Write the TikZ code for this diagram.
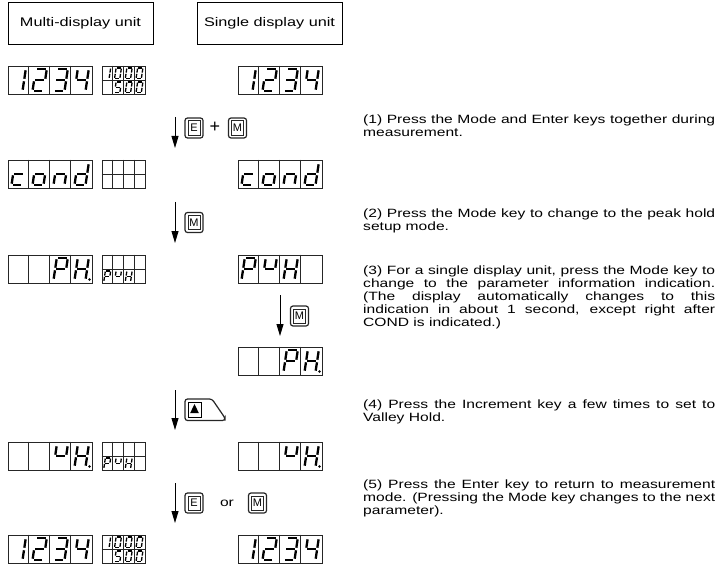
\documentclass[tikz,border=0pt]{standalone}
\usepackage{fontspec}
\setmainfont{Liberation Sans}[FakeStretch=1.3]
\newfontfamily\keyfont{Liberation Sans}
\usetikzlibrary{arrows.meta}
\setlength{\parindent}{0pt}
\hyphenpenalty=10000

\tikzset{
  seg/.style={line width=2.3pt},
  segsm/.style={line width=1.3pt},
  cell/.style={line width=0.7pt, draw=black!85},
  dispbox/.style={draw=black!85, line width=0.7pt, inner sep=0pt, minimum height=28pt},
  unitbox/.style={draw, line width=0.8pt, minimum width=145pt, minimum height=42pt, font=\fontsize{12.5}{15}\selectfont},
  keybox/.style={draw=black!85, line width=1.2pt, rounded corners=2.5pt, minimum width=18pt, minimum height=20pt, inner sep=0pt,
    font=\keyfont\fontsize{11}{11}\selectfont,
    path picture={\draw[sharp corners, line width=0.6pt] ([shift={(2.8pt,2.8pt)}]path picture bounding box.south west) rectangle ([shift={(-2.8pt,-2.8pt)}]path picture bounding box.north east);}},
  keyin/.style={draw, line width=0.6pt, minimum width=13pt, minimum height=15pt, inner sep=0pt},
  flow/.style={line width=0.9pt, -{Triangle[length=12pt,width=7pt]}},
  note/.style={anchor=north west, inner sep=0pt, text width=352pt, align=justify, font=\fontsize{12}{13}\selectfont},
}

% one seven segment digit: [style]{x}{y of bottom}{scale}{segments}
\newcommand{\sevseg}[5][seg]{%
  \begin{scope}[shift={(#2,#3)}, scale=#4, xslant=0.15]
    \coordinate (sa1) at (1.3,-22); \coordinate (sa2) at (9.7,-22);
    \coordinate (sb1) at (11,-20.7); \coordinate (sb2) at (11,-12.3);
    \coordinate (sc1) at (11,-9.7);  \coordinate (sc2) at (11,-1.3);
    \coordinate (sd1) at (1.3,0);   \coordinate (sd2) at (9.7,0);
    \coordinate (se1) at (0,-9.7);  \coordinate (se2) at (0,-1.3);
    \coordinate (sf1) at (0,-20.7); \coordinate (sf2) at (0,-12.3);
    \coordinate (sg1) at (1.3,-11); \coordinate (sg2) at (9.7,-11);
    \foreach \s in {#5} \draw[#1] (s\s1) -- (s\s2);
  \end{scope}}
\newcommand{\bigdig}[3]{\sevseg{#1+3.5}{#2+25}{1}{#3}}
\newcommand{\smalldig}[3]{\sevseg[segsm]{#1+1.8}{#2+12.5}{0.48}{#3}}
\newcommand{\decpt}[2]{\fill (#1+18.5,#2+24.5) circle (1.4pt);}

% display frames
\newcommand{\maindisp}[3]{%
  \node[dispbox, minimum width=84pt] (#1) at (#2+42,#3+14) {};
  \foreach \i in {1,2,3} \draw[cell] ([xshift=\i*21pt]#1.north west) -- ([xshift=\i*21pt]#1.south west);}
\newcommand{\subdisp}[3]{%
  \node[dispbox, minimum width=43pt] (#1) at (#2+21.5,#3+14) {};
  \foreach \i in {1,2,3} \draw[cell] ([xshift=\i*10.75pt]#1.north west) -- ([xshift=\i*10.75pt]#1.south west);
  \draw[cell] (#1.west) -- (#1.east);}

% words
\newcommand{\wordnum}[2]{%
  \bigdig{#1}{#2}{b,c}\bigdig{#1+21}{#2}{a,b,g,e,d}\bigdig{#1+42}{#2}{a,b,g,c,d}\bigdig{#1+63}{#2}{f,g,b,c}}
\newcommand{\wordcond}[2]{%
  \bigdig{#1}{#2}{g,e,d}\bigdig{#1+21}{#2}{g,c,d,e}\bigdig{#1+42}{#2}{g,e,c}\bigdig{#1+63}{#2}{b,c,d,e,g}}
\newcommand{\subnum}[2]{%
  \smalldig{#1}{#2}{b,c}\smalldig{#1+10.75}{#2}{a,b,c,d,e,f}\smalldig{#1+21.5}{#2}{a,b,c,d,e,f}\smalldig{#1+32.25}{#2}{a,b,c,d,e,f}
  \smalldig{#1+10.75}{#2+14}{a,f,g,c,d}\smalldig{#1+21.5}{#2+14}{a,b,c,d,e,f}\smalldig{#1+32.25}{#2+14}{a,b,c,d,e,f}}
\newcommand{\subpuh}[2]{%
  \smalldig{#1}{#2+14}{a,b,e,f,g}\smalldig{#1+10.75}{#2+14}{f,g,b}\smalldig{#1+21.5}{#2+14}{b,c,e,f,g}}

\begin{document}
\begin{tikzpicture}[x=1pt,y=-1pt]
\useasboundingbox (0,0) rectangle (717,564);

\node[unitbox] (multi) at (80.5,23) {Multi-display unit};
\node[unitbox] (single) at (269.5,23) {Single display unit};

% row 1
\maindisp{m1}{8}{66} \subdisp{s1}{102}{66} \maindisp{u1}{238}{66}
\wordnum{8}{66} \subnum{102}{66} \wordnum{238}{66}

% row 2
\maindisp{m2}{8}{160} \subdisp{s2}{102}{160} \maindisp{u2}{238}{160}
\wordcond{8}{160} \wordcond{238}{160}

% row 3
\maindisp{m3}{8}{255} \subdisp{s3}{102}{255} \maindisp{u3}{238}{255}
\bigdig{50}{255}{a,b,e,f,g} \bigdig{71}{255}{b,c,e,f,g} \decpt{71}{255}
\subpuh{102}{255}
\bigdig{238}{255}{a,b,e,f,g} \bigdig{259}{255}{f,g,b} \bigdig{280}{255}{b,c,e,f,g}

% row 4
\maindisp{u4}{238}{347}
\bigdig{280}{347}{a,b,e,f,g} \bigdig{301}{347}{b,c,e,f,g} \decpt{301}{347}

% row 5
\maindisp{m5}{8}{442} \subdisp{s5}{102}{442} \maindisp{u5}{238}{442}
\bigdig{50}{442}{f,g,b} \bigdig{71}{442}{b,c,e,f,g} \decpt{71}{442}
\subpuh{102}{442}
\bigdig{280}{442}{f,g,b} \bigdig{301}{442}{b,c,e,f,g} \decpt{301}{442}

% row 6
\maindisp{m6}{8}{535} \subdisp{s6}{102}{535} \maindisp{u6}{238}{535}
\wordnum{8}{535} \subnum{102}{535} \wordnum{238}{535}

% arrows and keys
\coordinate (a1s) at (175,117); \coordinate (a1e) at (175,148);
\draw[flow] (a1s) -- (a1e);
\node[keybox] (kE1) at (194,128) {E};
\node[font=\keyfont\fontsize{18}{18}\selectfont, inner sep=0pt] (plus) at (215,127.5) {+};
\node[keybox] (kM1) at (237.5,128) {M};

\coordinate (a2s) at (175,202); \coordinate (a2e) at (175,243);
\draw[flow] (a2s) -- (a2e);
\node[keybox] (kM2) at (194,222.5) {M};

\coordinate (a3s) at (280,295); \coordinate (a3e) at (280,336);
\draw[flow] (a3s) -- (a3e);
\node[keybox] (kM3) at (299.5,316) {M};

\coordinate (a4s) at (175,390); \coordinate (a4e) at (175,430);
\draw[flow] (a4s) -- (a4e);
\draw[draw=black!85, line width=1.2pt, rounded corners=2.5pt] (185,399) -- (212,399) -- (225,418) -- (225,420.5) -- (185,420.5) -- cycle;
\node[keyin] (kInc) at (194.5,409.5) {};
\fill (194.5,404) -- (198.8,413) -- (190.2,413) -- cycle;

\coordinate (a5s) at (175,483); \coordinate (a5e) at (175,523);
\draw[flow] (a5s) -- (a5e);
\node[keybox] (kE5) at (194,503) {E};
\node[font=\fontsize{12}{13}\selectfont] (or) at (227,503) {or};
\node[keybox] (kM5) at (257.5,503) {M};

% notes
\node[note] (n1) at (363,114.5) {(1) Press the Mode and Enter keys together during\linebreak measurement.};
\node[note] (n2) at (363,208.5) {(2) Press the Mode key to change to the peak hold\linebreak setup mode.};
\node[note] (n3) at (363,265.5) {(3) For a single display unit, press the Mode key to\linebreak change to the parameter information indication.\linebreak (The display automatically changes to this\linebreak indication in about 1 second, except right after\linebreak COND is indicated.)};
\node[note] (n4) at (363,400) {(4) Press the Increment key a few times to set to\linebreak Valley Hold.};
\node[note] (n5) at (363,479.5) {(5) Press the Enter key to return to measurement\linebreak mode. (Pressing the Mode key changes to the next\linebreak parameter).};
\end{tikzpicture}
\end{document}
